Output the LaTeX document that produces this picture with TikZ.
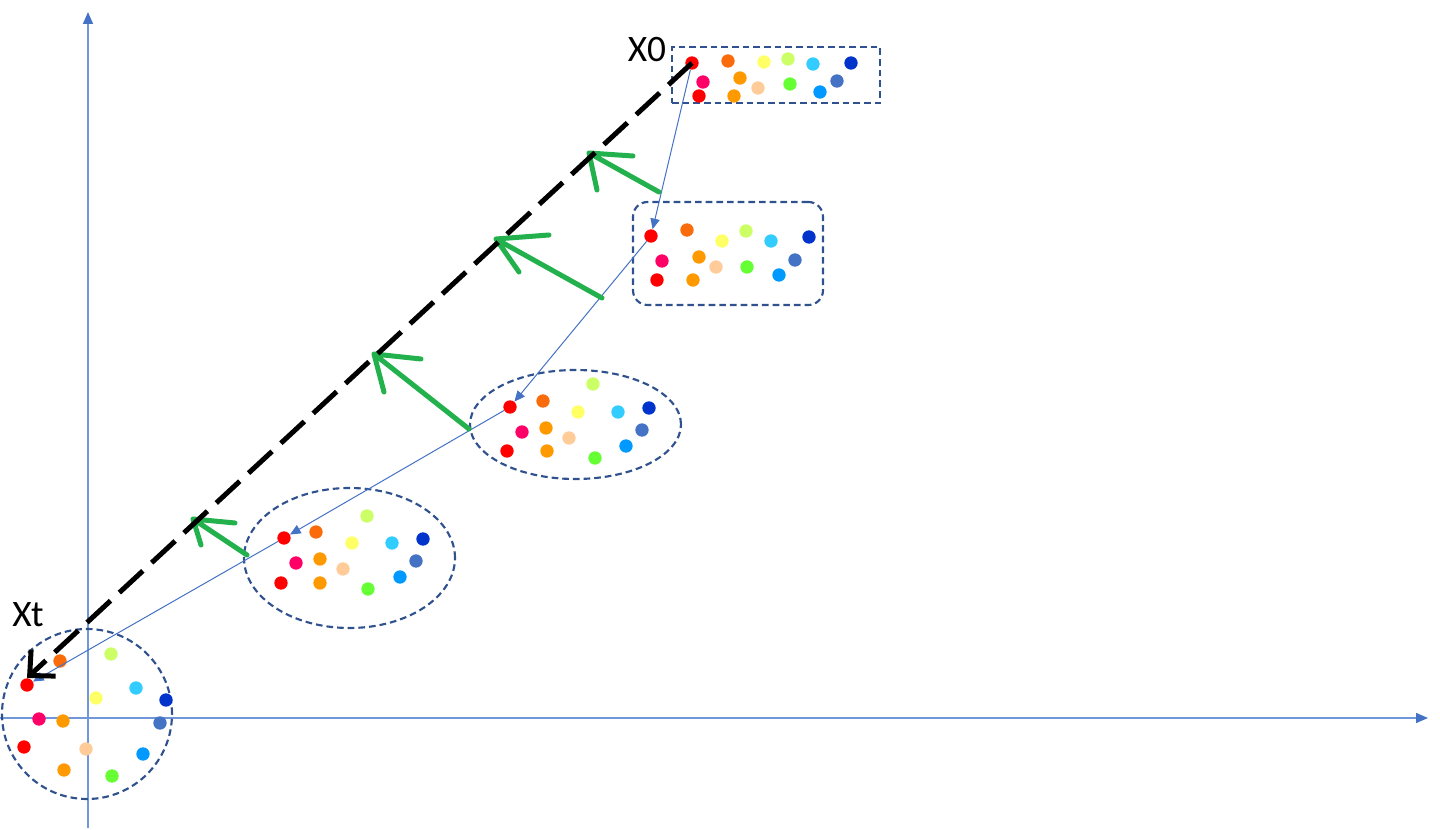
\documentclass[tikz,border=0pt]{standalone}
\usepackage{fontspec}
\setmainfont{Carlito}
\usetikzlibrary{arrows.meta,shapes.geometric}

\definecolor{ptred}{HTML}{FF0000}
\definecolor{ptorange}{HTML}{F96B0B}
\definecolor{ptyellow}{HTML}{FFFF66}
\definecolor{ptlime}{HTML}{CCFF66}
\definecolor{ptcyan}{HTML}{33CCFF}
\definecolor{ptnavy}{HTML}{0033CC}
\definecolor{ptpink}{HTML}{FF0066}
\definecolor{ptamber}{HTML}{FF9900}
\definecolor{ptpeach}{HTML}{FFCC99}
\definecolor{ptgreen}{HTML}{66FF33}
\definecolor{ptsteel}{HTML}{4472C4}
\definecolor{ptazure}{HTML}{0099FF}
\definecolor{frameblue}{HTML}{2F528F}
\definecolor{axisblue}{HTML}{6F97DA}
\definecolor{tipblue}{HTML}{4472C4}
\definecolor{gradgreen}{HTML}{22B14C}

\begin{document}
\begin{tikzpicture}[x=0.75pt, y=-0.75pt,
  pt/.style={circle, inner sep=0pt, minimum size=10pt},
  frame/.style={draw=frameblue, line width=1.6pt, dash pattern=on 5pt off 3pt, inner sep=0pt},
  axis/.style={draw=axisblue, line width=1.1pt, -{Triangle[length=9pt, width=7.5pt, color=tipblue]}},
  walk/.style={draw=tipblue, line width=0.75pt, -{Triangle[length=8pt, width=7pt]}},
  jump/.style={line width=3.75pt, dash pattern=on 24pt off 9pt, -{Straight Barb[length=14pt, width=27pt]}},
  grad/.style={draw=gradgreen, line width=3.75pt, line cap=round, line join=round},
  lbl/.style={font=\fontsize{28}{32}\selectfont, inner sep=0pt}]
  \useasboundingbox (0,0) rectangle (1440,830);

  % Axes
  \coordinate (Ob) at (88,828);
  \coordinate (Ot) at (88,12);
  \coordinate (Ol) at (0,718);
  \coordinate (Or) at (1428,718);
  \draw[axis] (Ob) -- (Ot);
  \draw[axis] (Ol) -- (Or);

  % Frames
  \node[frame, rectangle, minimum width=156pt, minimum height=42pt] (S0) at (776,75) {};
  \node[frame, rectangle, rounded corners=11pt, minimum width=142.5pt, minimum height=77.25pt] (S1) at (728,253.5) {};
  \node[frame, ellipse, minimum width=158.25pt, minimum height=81.75pt] (S2) at (575.5,424.5) {};
  \node[frame, ellipse, minimum width=158.25pt, minimum height=105pt] (S3) at (349.5,558) {};
  \node[frame, circle, minimum size=127.5pt] (S4) at (87,714) {};

  % Points
  \foreach \c/\x/\y [count=\i] in {ptred/692/63, ptorange/728/61, ptyellow/764/62, ptlime/788/59,
      ptcyan/813/64, ptnavy/851/63, ptpink/703/82, ptamber/740/78, ptpeach/758/88, ptgreen/790/84,
      ptsteel/837/81, ptazure/820/92, ptred/699/96, ptamber/734/96}
    \node[pt, fill=\c] (A\i) at (\x,\y) {};
  \foreach \c/\x/\y [count=\i] in {ptred/651/236, ptorange/687/230, ptyellow/722/241, ptlime/746/231,
      ptcyan/771/241, ptnavy/809/237, ptpink/662/261, ptamber/699/257, ptpeach/716/267, ptgreen/747/267,
      ptsteel/795/260, ptazure/779/275, ptred/657/280, ptamber/693/280}
    \node[pt, fill=\c] (B\i) at (\x,\y) {};
  \foreach \c/\x/\y [count=\i] in {ptred/510/407, ptorange/543/401, ptyellow/578/412, ptlime/593/384,
      ptcyan/618/412, ptnavy/649/408, ptpink/522/432, ptamber/546/428, ptpeach/569/438, ptgreen/595/458,
      ptsteel/642/430, ptazure/626/446, ptred/507/451, ptamber/547/451}
    \node[pt, fill=\c] (C\i) at (\x,\y) {};
  \foreach \c/\x/\y [count=\i] in {ptred/284/538, ptorange/316/532, ptyellow/352/543, ptlime/367/516,
      ptcyan/392/543, ptnavy/423/539, ptpink/296/563, ptamber/320/559, ptpeach/343/569, ptgreen/368/589,
      ptsteel/416/561, ptazure/400/577, ptred/281/583, ptamber/320/583}
    \node[pt, fill=\c] (D\i) at (\x,\y) {};
  \foreach \c/\x/\y [count=\i] in {ptred/27/685, ptorange/60/661, ptyellow/96/698, ptlime/111/654,
      ptcyan/136/688, ptnavy/166/700, ptpink/39/719, ptamber/63/721, ptpeach/86/749, ptgreen/112/776,
      ptsteel/160/723, ptazure/143/754, ptred/24/747, ptamber/64/770}
    \node[pt, fill=\c] (E\i) at (\x,\y) {};

  % Labels
  \node[lbl] (L0) at (647,50) {X0};
  \node[lbl] (Lt) at (28,615) {Xt};

  % Walk
  \draw[walk] (A1) -- (B1);
  \draw[walk] (B1) -- (C1);
  \draw[walk] (C1) -- (D1);
  \draw[walk] (D1) -- (E1);

  % Green arrows
  \coordinate (G1t) at (659,192); \coordinate (G1h) at (589,153);
  \coordinate (G1a) at (633,156); \coordinate (G1b) at (597,190);
  \coordinate (G2t) at (602,298); \coordinate (G2h) at (496,239);
  \coordinate (G2a) at (549,235); \coordinate (G2b) at (519,272);
  \coordinate (G3t) at (469,429); \coordinate (G3h) at (374,354);
  \coordinate (G3a) at (421,359); \coordinate (G3b) at (384,392);
  \coordinate (G4t) at (247,555); \coordinate (G4h) at (193,519);
  \coordinate (G4a) at (235,523); \coordinate (G4b) at (201,545);
  \draw[grad] (G1t) -- (G1h) -- (G1a) (G1h) -- (G1b);
  \draw[grad] (G2t) -- (G2h) -- (G2a) (G2h) -- (G2b);
  \draw[grad] (G3t) -- (G3h) -- (G3a) (G3h) -- (G3b);
  \draw[grad] (G4t) -- (G4h) -- (G4a) (G4h) -- (G4b);

  % Jump
  \coordinate (T) at (27,678);
  \draw[jump] (A1.center) -- (T);
\end{tikzpicture}
\end{document}
